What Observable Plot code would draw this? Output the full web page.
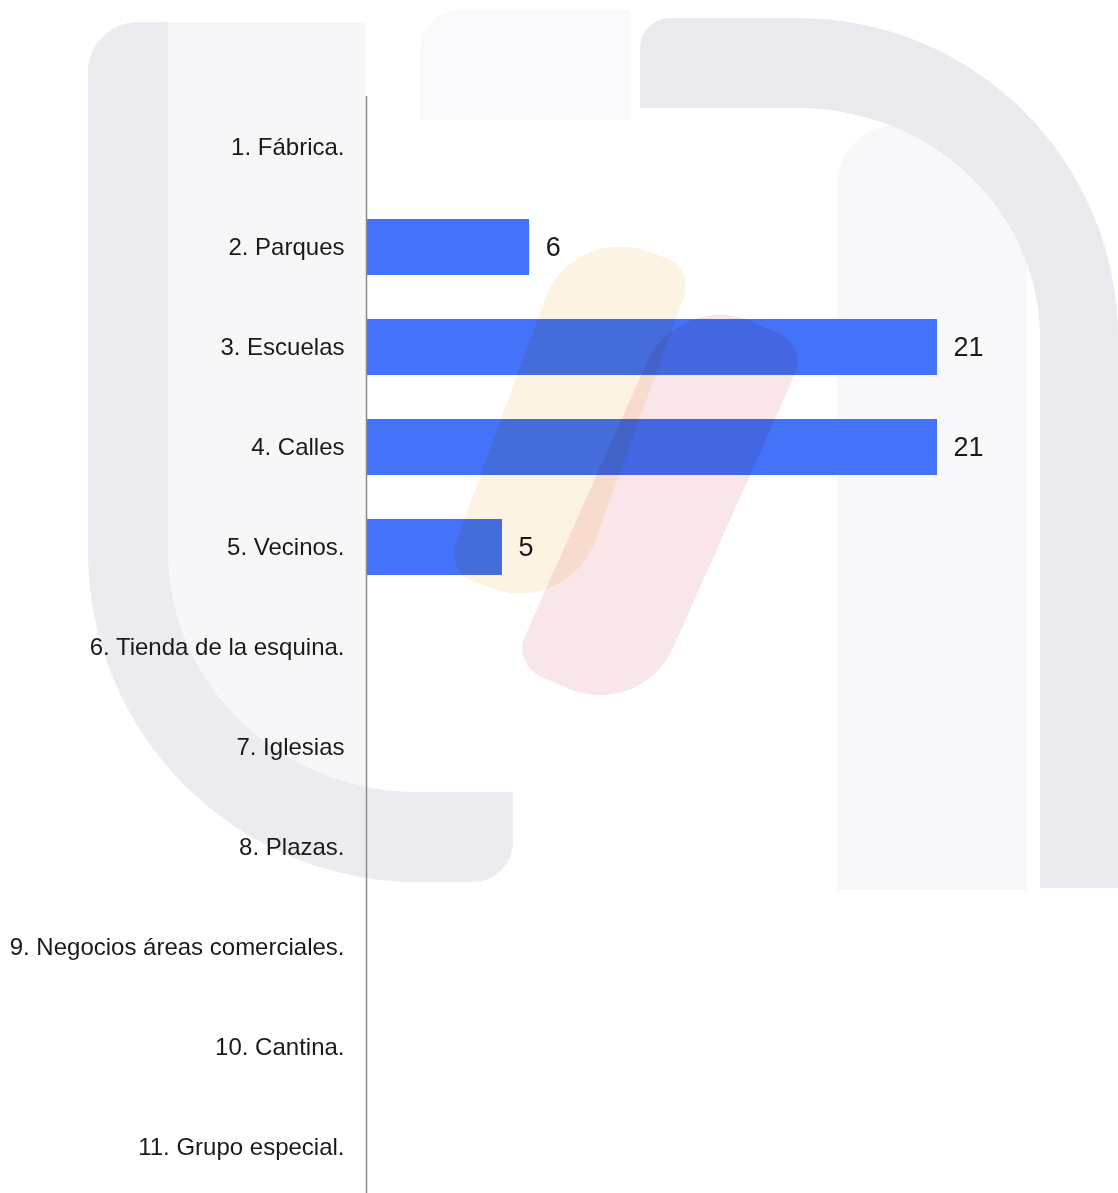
<!DOCTYPE html>
<html>
<head>
<meta charset="utf-8">
<script src="https://cdn.jsdelivr.net/npm/d3@7"></script>
<script src="https://cdn.jsdelivr.net/npm/@observablehq/plot@0.6"></script>
<style>
  html, body { margin: 0; padding: 0; background: #ffffff; }
  #wrap { position: relative; width: 1118px; height: 1193px; overflow: hidden; background: #ffffff; }
  .wm { position: absolute; box-sizing: border-box; }
  #chart { position: absolute; left: 0; top: 0; }
  .flame { position: absolute; mix-blend-mode: multiply; pointer-events: none; }
</style>
</head>
<body>
<div id="wrap">
  <!-- faint background watermark (decoration, not data) -->
  <div class="wm" style="left:420px; top:10px; width:210px; height:110px; background:#f9f9fb; border-radius:40px 0 0 0;"></div>
  <div class="wm" style="left:168px; top:22px; width:198px; height:770px; background:#f7f7f9; border-radius:0 0 0 240px;"></div>
  <div class="wm" style="left:88px; top:22px; width:425px; height:860px; border-left:80px solid #ebebf0; border-bottom:90px solid #ebebf0; border-radius:50px 0 40px 330px;"></div>
  <div class="wm" style="left:837px; top:125px; width:190px; height:765px; background:#f8f8fa; border-radius:60px 0 0 0;"></div>
  <div class="wm" style="left:640px; top:18px; width:478px; height:870px; border-top:90px solid #e9e9ee; border-right:78px solid #e9e9ee; border-radius:30px 320px 0 0;"></div>
  <div id="chart"></div>
  <div class="flame" style="left:505px; top:235px; width:130px; height:370px; background:#fdf3e2; border-radius:80px 30px 80px 30px; transform:rotate(20deg);"></div>
  <div class="flame" style="left:590px; top:300px; width:140px; height:410px; background:#f9e6e8; border-radius:80px 30px 80px 30px; transform:rotate(24deg);"></div>
</div>
<script>
const categories = [
  "1. Fábrica.",
  "2. Parques",
  "3. Escuelas",
  "4. Calles",
  "5. Vecinos.",
  "6. Tienda de la esquina.",
  "7. Iglesias",
  "8. Plazas.",
  "9. Negocios áreas comerciales.",
  "10. Cantina.",
  "11. Grupo especial."
];
const values = [0, 6, 21, 21, 5, 0, 0, 0, 0, 0, 0];

const data = categories.map((c, i) => ({cat: c, value: values[i]}));

const chart = Plot.plot({
  width: 1118,
  height: 1193,
  marginLeft: 366,
  marginTop: 96,
  marginBottom: 0,
  marginRight: 0,
  style: {
    fontFamily: "'Liberation Sans', Arial, sans-serif",
    color: "#1a1a1a",
    background: "transparent",
    overflow: "visible"
  },
  x: {domain: [0, 21], range: [366, 937], axis: null},
  y: {domain: categories, range: [96, 1198], paddingInner: 0.44, paddingOuter: 0.22, label: null},
  marks: [
    Plot.barX(data, {x: "value", y: "cat", fill: "#4472f8"}),
    Plot.text(data.filter(d => d.value > 0), {
      x: "value", y: "cat", text: d => String(d.value),
      dx: 16, textAnchor: "start", fontSize: 27, fill: "#1a1a1a"
    }),
    Plot.axisY({tickSize: 0, tickPadding: 22, fontSize: 24, label: null}),
    Plot.ruleX([0], {stroke: "#8a8a8a", strokeWidth: 1.5})
  ]
});
document.getElementById("chart").appendChild(chart);
</script>
</body>
</html>
